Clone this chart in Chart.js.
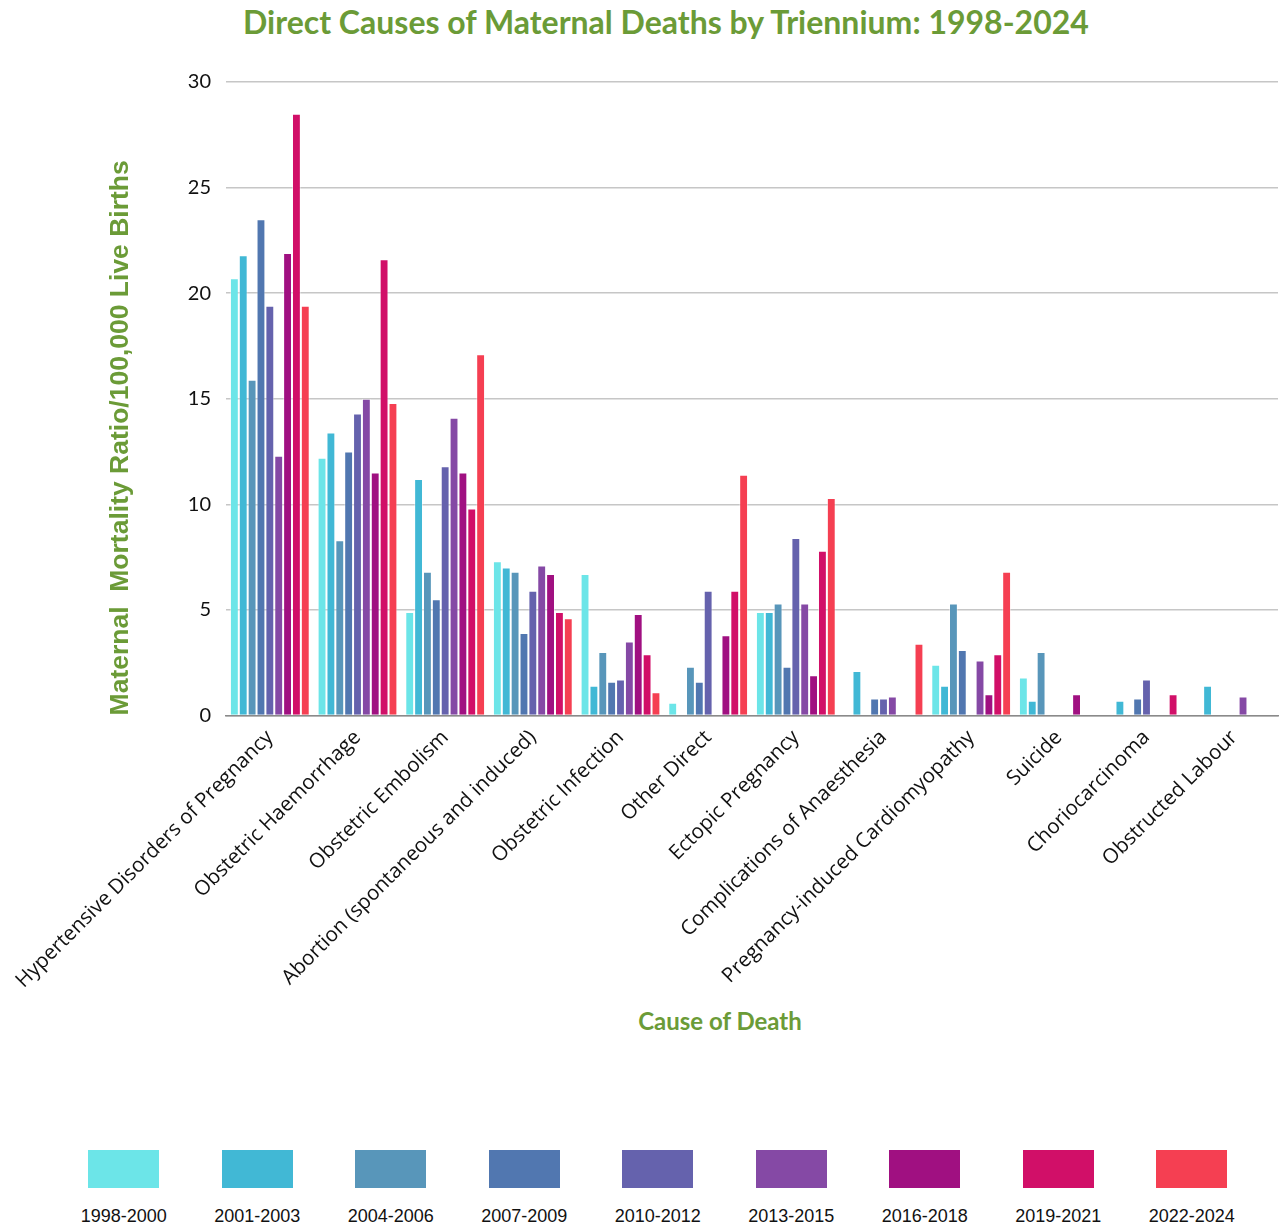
<!DOCTYPE html>
<html>
<head>
<meta charset="utf-8">
<script src="https://cdn.jsdelivr.net/npm/chart.js@4.4.1/dist/chart.umd.min.js"></script>
<style>
    body { margin: 0; background: #fff; width: 1279px; height: 1228px; position: relative; overflow: hidden; }
    #title { position: absolute; top: 2px; left: 243px; font: bold 32px Lato, sans-serif; color: #6b9b37; white-space: nowrap; }
    #xtitle { position: absolute; top: 1006px; left: 620px; width: 200px; text-align: center; font: bold 24px Lato, sans-serif; color: #6b9b37; }
    #wrap { position: absolute; left: 0; top: 0; width: 1279px; height: 997px; }
    #legend { position: absolute; top: 1150px; left: 57px; display: flex; }
    .item { width: 133.5px; display: flex; flex-direction: column; align-items: center; }
    .box { width: 71px; height: 38px; }
    .lbl { margin-top: 17px; font: 18px "Liberation Sans", Arial, sans-serif; color: #111; line-height: 22px; }
</style>
</head>
<body>
<div id="title">Direct Causes of Maternal Deaths by Triennium: 1998-2024</div>
<div id="wrap"><canvas id="chart"></canvas></div>
<div id="xtitle">Cause of Death</div>
<div id="legend"></div>
<script>
// --- DATA ---
const categories = [
    'Hypertensive Disorders of Pregnancy', 'Obstetric Haemorrhage', 'Obstetric Embolism',
    'Abortion (spontaneous and induced)', 'Obstetric Infection', 'Other Direct',
    'Ectopic Pregnancy', 'Complications of Anaesthesia', 'Pregnancy-induced Cardiomyopathy',
    'Suicide', 'Choriocarcinoma', 'Obstructed Labour'
];
const trienniums = ['1998-2000', '2001-2003', '2004-2006', '2007-2009', '2010-2012', '2013-2015', '2016-2018', '2019-2021', '2022-2024'];
const colors = ['#6ce5e8', '#41b8d5', '#5896ba', '#5177b0', '#6562ad', '#8549a5', '#a01081', '#d10f68', '#f53f52'];

const t1998 = [20.7, 12.2, 4.9, 7.3, 6.7, 0.6, 4.9, null, 2.4, 1.8, null, null];
const t2001 = [21.8, 13.4, 11.2, 7.0, 1.4, null, 4.9, 2.1, 1.4, 0.7, 0.7, 1.4];
const t2004 = [15.9, 8.3, 6.8, 6.8, 3.0, 2.3, 5.3, null, 5.3, 3.0, null, null];
const t2007 = [23.5, 12.5, 5.5, 3.9, 1.6, 1.6, 2.3, 0.8, 3.1, null, 0.8, null];
const t2010 = [19.4, 14.3, 11.8, 5.9, 1.7, 5.9, 8.4, 0.8, null, null, 1.7, null];
const t2013 = [12.3, 15.0, 14.1, 7.1, 3.5, null, 5.3, 0.9, 2.6, null, null, 0.9];
const t2016 = [21.9, 11.5, 11.5, 6.7, 4.8, 3.8, 1.9, null, 1.0, 1.0, null, null];
const t2019 = [28.5, 21.6, 9.8, 4.9, 2.9, 5.9, 7.8, null, 2.9, null, 1.0, null];
const t2022 = [19.4, 14.8, 17.1, 4.6, 1.1, 11.4, 10.3, 3.4, 6.8, null, null, null];
const seriesValues = [t1998, t2001, t2004, t2007, t2010, t2013, t2016, t2019, t2022];

const yTicks = [0, 5, 10, 15, 20, 25, 30];

const green = '#6b9b37';

// --- CHART ---
const ctx = document.getElementById('chart');
new Chart(ctx, {
    type: 'bar',
    data: {
        labels: categories,
        datasets: trienniums.map((label, i) => ({
            label: label,
            data: seriesValues[i],
            backgroundColor: colors[i],
            borderColor: 'rgba(255,255,255,0.45)',
            borderWidth: 1,
            categoryPercentage: 0.91,
            barPercentage: 1.0
        }))
    },
    options: {
        responsive: true,
        maintainAspectRatio: false,
        animation: false,
        layout: { padding: { top: 82, right: 1, left: 105, bottom: 2 } },
        plugins: {
            legend: { display: false },
            tooltip: { enabled: false }
        },
        scales: {
            x: {
                grid: { display: false },
                border: { display: true, color: '#8a8a8a', width: 1.5 },
                ticks: {
                    minRotation: 45,
                    maxRotation: 45,
                    autoSkip: false,
                    color: '#111',
                    padding: 2,
                    font: { family: '"Open Sans"', size: 20.5 }
                }
            },
            y: {
                min: 0,
                max: 30,
                afterBuildTicks: (axis) => { axis.ticks = yTicks.map(v => ({ value: v })); },
                grid: { color: '#c6c6c6', lineWidth: 1.5, drawTicks: false },
                border: { display: false },
                ticks: {
                    color: '#111',
                    padding: 15,
                    font: { family: 'Lato', size: 20 }
                },
                title: {
                    display: true,
                    text: 'Maternal  Mortality Ratio/100,000 Live Births',
                    align: 'start',
                    color: green,
                    padding: { top: 0, bottom: 36 },
                    font: { family: '"Liberation Sans"', size: 26.5, weight: 'bold' }
                }
            }
        }
    }
});

// --- LEGEND ---
const legend = document.getElementById('legend');
trienniums.forEach((label, i) => {
    const item = document.createElement('div');
    item.className = 'item';
    item.innerHTML = `<div class="box" style="background:${colors[i]}"></div><div class="lbl">${label}</div>`;
    legend.appendChild(item);
});
</script>
</body>
</html>
